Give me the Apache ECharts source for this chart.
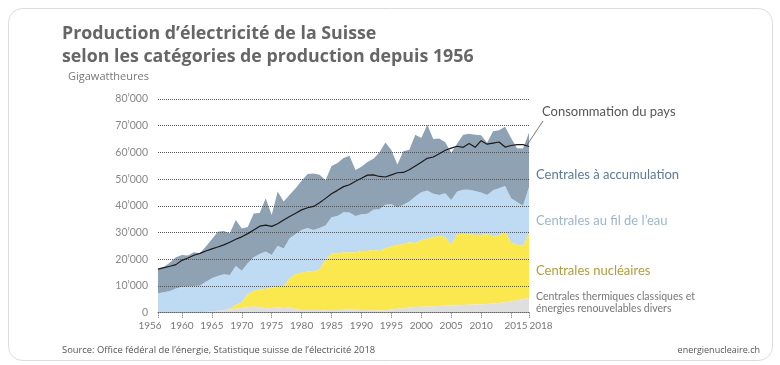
<!DOCTYPE html>
<html><head><meta charset="utf-8">
<script src="https://cdn.jsdelivr.net/npm/echarts@6/dist/echarts.min.js"></script>
<style>html,body{margin:0;padding:0;background:#fff}#c{width:780px;height:365px}</style>
</head><body><div id="c"></div>
<script>
const years = [1956,1957,1958,1959,1960,1961,1962,1963,1964,1965,1966,1967,1968,1969,1970,1971,1972,1973,1974,1975,1976,1977,1978,1979,1980,1981,1982,1983,1984,1985,1986,1987,1988,1989,1990,1991,1992,1993,1994,1995,1996,1997,1998,1999,2000,2001,2002,2003,2004,2005,2006,2007,2008,2009,2010,2011,2012,2013,2014,2015,2016,2017,2018];
// GWh
const thermal = [100,100,100,100,100,200,200,200,300,500,700,900,1200,1500,1800,2000,2200,2100,1700,1800,1900,1800,1900,1300,1000,1000,1000,1000,900,1000,1000,1100,1200,1100,1000,1000,900,800,900,1200,1500,1700,1900,2100,2200,2300,2400,2500,2600,2700,2800,2900,3000,3100,3200,3300,3400,3600,3900,4200,4700,5100,5400];
const nuclear = [0,0,0,0,0,0,0,0,0,0,0,0,300,1400,2000,4900,5900,6600,7200,7600,7700,8000,11000,13100,14000,14400,14300,15200,18900,21200,21200,21500,21300,21500,22100,22100,22600,22300,23200,23600,23800,23900,24500,23900,25000,25300,25800,26200,25600,22700,26700,26600,26400,26000,25900,26100,25100,25300,26500,22000,20700,19900,24300];
const runOfRiver = [7200,7600,8000,9000,9600,9600,9800,9900,11300,12400,13000,13500,12600,14600,11900,11600,12700,13300,14000,12200,15500,14200,15000,15100,16000,16300,15700,15500,12800,13500,14000,15000,15000,13600,13800,13900,15000,15600,16300,15800,14200,14800,15200,17500,17900,18100,16300,15400,16500,16800,15900,16500,16600,16500,15900,14700,17300,17700,17000,16600,16000,15000,17300];
const storage = [9100,9400,10700,11700,11900,11600,12600,12200,13200,14600,16600,16200,15600,17200,15800,13600,16300,15300,19900,15000,20300,17600,16300,17100,18400,20200,21100,19900,17000,19200,19800,20300,21300,17200,17700,19400,19100,21300,23300,20300,16000,20000,19400,23100,20300,24700,20500,21100,19100,17700,17900,20600,21000,21000,21400,19500,22100,21700,22200,22600,20200,21500,20500];
const consumption = [16300,16900,17400,18000,19600,20500,21500,22200,23100,23900,24600,25400,26400,27500,28400,29600,31000,32400,32800,32300,33300,34700,36000,37200,38500,39300,39800,41200,42800,44500,45800,47200,47900,49200,50300,51500,51600,51000,50800,51600,52400,52500,53500,54900,56300,57800,58300,59500,60800,61600,62300,61900,63300,61900,64400,63100,63500,63900,62000,62600,62900,62900,62200];
const xTickYears = [1956,1960,1965,1970,1975,1980,1985,1990,1995,2000,2005,2010,2015,2018];
const lastYear = 2018;
const yTicks = [0,10000,20000,30000,40000,50000,60000,70000,80000];

const FONT = 'Lato, "Open Sans", sans-serif';
const OS = '"Open Sans", Lato, sans-serif';
const chart = echarts.init(document.getElementById('c'), null, {renderer:'canvas'});
const lblFont = {fontSize:10, fontFamily:FONT, color:'#777'};
const isTick = (i, v) => xTickYears.indexOf(Number(v)) >= 0;
const isMainLabel = (i, v) => isTick(i, v) && Number(v) !== lastYear;
const isLastLabel = (i, v) => Number(v) === lastYear;

const area = (name, data, color) => ({
  name, type:'line', stack:'prod', data, symbol:'none', smooth:false,
  lineStyle:{width:0, opacity:0}, areaStyle:{color, opacity:1}, z:2, silent:true
});

chart.setOption({
  animation:false,
  grid:{left:158, right:251, top:99, bottom:52.3, containLabel:false},
  xAxis:[{
    type:'category', data:years.map(String), boundaryGap:false, z:5,
    axisLine:{show:true, lineStyle:{color:'#666', type:'dotted', width:1}},
    axisTick:{show:true, interval:isTick, length:6, lineStyle:{color:'#666', type:'dotted'}},
    axisLabel:{interval:isMainLabel, margin:8, fontSize:10, fontFamily:FONT, color:'#777',
      hideOverlap:false,
      formatter: v => v==='1956' ? '{a|1956}' : v==='2015' ? '{b|2015}' : v,
      rich:{
        a:Object.assign({padding:[0,16,0,0]}, lblFont),
        b:Object.assign({padding:[0,0,0,10]}, lblFont)
      }},
    splitLine:{show:false}
  },{
    type:'category', data:years.map(String), boundaryGap:false, position:'bottom', z:5,
    axisLine:{show:false}, axisTick:{show:false}, splitLine:{show:false},
    axisLabel:{interval:isLastLabel, margin:8, showMaxLabel:true, hideOverlap:false,
      fontSize:10, fontFamily:FONT, color:'#777',
      formatter: v => '{c|' + v + '}',
      rich:{ c:Object.assign({padding:[0,0,0,24]}, lblFont) }}
  }],
  yAxis:{
    type:'value', min:yTicks[0], max:yTicks[yTicks.length-1], interval:10000, z:5,
    axisLine:{show:false}, axisTick:{show:false},
    axisLabel:{margin:10, fontSize:10.5, fontFamily:FONT, color:'#888',
      formatter: v => v===0 ? '0' : (v/1000) + '’000'},
    splitLine:{show:true, lineStyle:{color:'#555', type:'dotted', width:1}}
  },
  series:[
    area('Centrales thermiques classiques et énergies renouvelables divers', thermal, '#dfdfdf'),
    area('Centrales nucléaires', nuclear, '#fbe84f'),
    area('Centrales au fil de l’eau', runOfRiver, '#bfdbf4'),
    area('Centrales à accumulation', storage, '#8fa2b3'),
    {name:'Consommation du pays', type:'line', data:consumption, symbol:'none', z:10,
     lineStyle:{color:'#1a1a1a', width:1.2}, silent:true}
  ],
  graphic:[
    {type:'rect', shape:{x:8.5, y:8.5, width:764, height:352, r:14}, style:{fill:'none', stroke:'#dcdcdc', lineWidth:1}, z:0},
    {type:'text', x:62, y:34, style:{text:'Production d’électricité de la Suisse', fill:'#666', font:'bold 17.8px '+OS, verticalAlign:'middle'}},
    {type:'text', x:62, y:57, style:{text:'selon les catégories de production depuis 1956', fill:'#666', font:'bold 17.8px '+OS, verticalAlign:'middle'}},
    {type:'text', x:68, y:77, style:{text:'Gigawattheures', fill:'#777', font:'11px '+OS, verticalAlign:'middle'}},
    {type:'line', shape:{x1:543, y1:121, x2:527, y2:145}, style:{stroke:'#555', lineWidth:0.8}, z:20},
    {type:'text', x:542, y:112, style:{text:'Consommation du pays', fill:'#555', font:'13px '+FONT, verticalAlign:'middle'}},
    {type:'text', x:536, y:175, style:{text:'Centrales à accumulation', fill:'#5b7b98', font:'13px '+FONT, verticalAlign:'middle'}},
    {type:'text', x:536, y:221, style:{text:'Centrales au fil de l’eau', fill:'#9db6cb', font:'13px '+FONT, verticalAlign:'middle'}},
    {type:'text', x:536, y:271, style:{text:'Centrales nucléaires', fill:'#b39d3a', font:'13px '+FONT, verticalAlign:'middle'}},
    {type:'text', x:536, y:297, style:{text:'Centrales thermiques classiques et', fill:'#777', font:'10.5px '+FONT, verticalAlign:'middle'}},
    {type:'text', x:536, y:309, style:{text:'énergies renouvelables divers', fill:'#777', font:'10.5px '+FONT, verticalAlign:'middle'}},
    {type:'text', x:62, y:350, style:{text:'Source: Office fédéral de l’énergie, Statistique suisse de l’électricité 2018', fill:'#555', font:'9.4px '+OS, verticalAlign:'middle'}},
    {type:'text', x:760, y:350, style:{text:'energienucleaire.ch', fill:'#555', font:'9px '+OS, align:'right', verticalAlign:'middle'}}
  ]
});
</script></body></html>
